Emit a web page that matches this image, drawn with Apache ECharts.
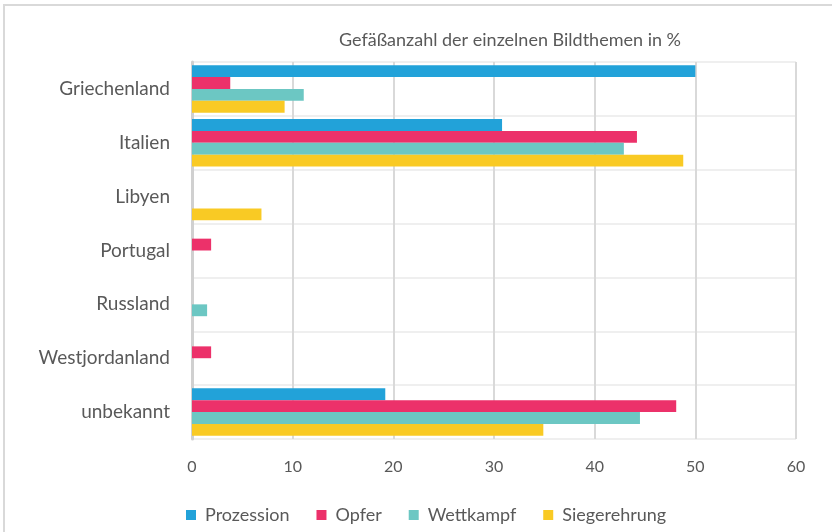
<!DOCTYPE html>
<html lang="de" style="height: 100%">

<head>
  <meta charset="utf-8">
</head>

<body style="height: 100%; margin: 0; background-color: #fff">
  <div id="container" style="width: 832px; height: 532px"></div>

  <script type="text/javascript" src="https://cdn.jsdelivr.net/npm/echarts@6.0.0/dist/echarts.min.js"></script>

  <script type="text/javascript">
    // ----- Daten -----
    var laender = ['Griechenland', 'Italien', 'Libyen', 'Portugal', 'Russland', 'Westjordanland', 'unbekannt'];
    var themen = ['Prozession', 'Opfer', 'Wettkampf', 'Siegerehrung'];
    var prozession = [50.0, 30.8, 0, 0, 0, 0, 19.2];
    var opfer = [3.8, 44.2, 0, 1.9, 0, 1.9, 48.1];
    var wettkampf = [11.1, 42.9, 0, 0, 1.5, 0, 44.5];
    var siegerehrung = [9.2, 48.8, 6.9, 0, 0, 0, 34.9];
    var xTicks = [0, 10, 20, 30, 40, 50, 60];

    var farben = ['#22A2D9', '#EC316A', '#6CC7C3', '#F9CA24'];
    var werte = [prozession, opfer, wettkampf, siegerehrung];

    var dom = document.getElementById('container');
    var myChart = echarts.init(dom, null, { renderer: 'canvas' });

    var schrift = 'Lato';

    var option = {
      backgroundColor: '#fff',
      animation: false,
      textStyle: { fontFamily: schrift },
      // Rahmen oben/links
      graphic: [{
        type: 'rect',
        shape: { x: 4, y: 5, width: 900, height: 600 },
        style: { fill: 'none', stroke: '#d9d9d9', lineWidth: 2 },
        silent: true
      }],
      title: {
        text: 'Gefäßanzahl der einzelnen Bildthemen in %',
        left: 505,
        top: 26,
        textAlign: 'center',
        textStyle: {
          color: '#595959',
          fontFamily: schrift,
          fontWeight: 'normal',
          fontSize: 18
        }
      },
      legend: {
        data: themen,
        left: 181,
        top: 501,
        itemWidth: 10,
        itemHeight: 10,
        itemGap: 27,
        icon: 'rect',
        textStyle: {
          color: '#595959',
          fontFamily: schrift,
          fontSize: 18,
          padding: [0, 0, 0, 4]
        }
      },
      grid: {
        left: 192,
        right: 36,
        top: 62,
        bottom: 93
      },
      xAxis: {
        type: 'value',
        min: xTicks[0],
        max: xTicks[xTicks.length - 1],
        interval: 10,
        axisLine: { show: false },
        axisTick: { show: false },
        axisLabel: {
          color: '#595959',
          fontFamily: schrift,
          fontSize: 16,
          margin: 20
        },
        splitLine: {
          lineStyle: { color: '#d9d9d9', width: 2 }
        }
      },
      yAxis: {
        type: 'category',
        data: laender,
        inverse: true,
        axisLine: { show: true, lineStyle: { color: '#d0d0d0', width: 3 } },
        axisTick: { show: false },
        axisLabel: {
          color: '#595959',
          fontFamily: schrift,
          fontSize: 19,
          margin: 22,
          padding: [4, 0, 0, 0]
        },
        splitLine: {
          show: true,
          lineStyle: { color: '#efefef', width: 2 }
        }
      },
      series: themen.map(function (name, i) {
        return {
          name: name,
          type: 'bar',
          data: werte[i],
          barGap: '0%',
          barCategoryGap: '12%',
          itemStyle: { color: farben[i] }
        };
      })
    };

    myChart.setOption(option);
    window.addEventListener('resize', myChart.resize);
  </script>
</body>

</html>
